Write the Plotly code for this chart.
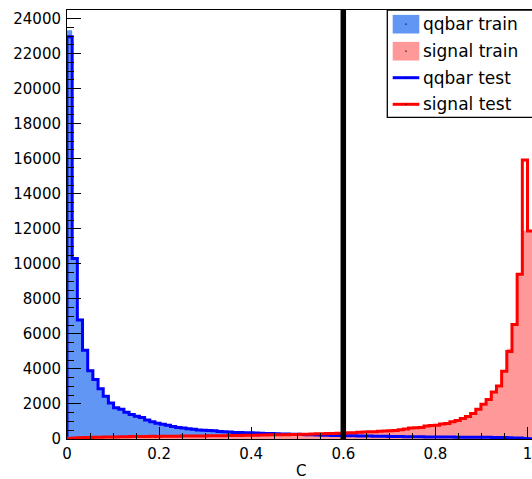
import numpy as np
import plotly.graph_objects as go

# ---- histogram contents (classifier output C) ----
BIN_WIDTH = 1.0 / 89.0

qqbar_train = [
    23330, 10380, 6860, 5020, 3950, 3430, 2900, 2480, 2040, 1800,
    1680, 1540, 1420, 1290, 1210, 1100, 1000, 910, 830, 790,
    720, 670, 620, 600, 555, 530, 505, 480, 465, 440,
    415, 395, 380, 365, 362, 345, 342, 330, 322, 305,
    302, 288, 283, 270, 262, 258, 244, 238, 228, 218,
    214, 203, 198, 194, 184, 182, 174, 171, 164, 162,
    154, 151, 145, 143, 135, 133, 127, 126, 121, 121,
    117, 116, 112, 111, 107, 107, 103, 103, 99, 97,
    96, 92, 89, 87, 79, 73, 61, 51, 34, 21,
]

signal_train = [
    32, 48, 72, 79, 92, 94, 104, 112, 114, 122,
    124, 133, 134, 141, 139, 147, 148, 153, 154, 161,
    159, 166, 164, 171, 172, 174, 181, 179, 187, 188,
    192, 194, 202, 204, 212, 214, 222, 224, 232, 234,
    242, 244, 252, 254, 263, 272, 274, 287, 289, 302,
    304, 317, 323, 338, 348, 362, 378, 402, 408, 422,
    438, 457, 468, 492, 528, 578, 618, 642, 648, 742,
    758, 794, 848, 893, 976, 1063, 1168, 1294, 1458, 1698,
    1984, 2258, 2694, 3016, 3880, 5150, 6580, 9380, 11900, 11870,
]

qqbar_test = [
    22960, 10300, 6800, 5060, 3890, 3400, 2870, 2445, 2060, 1780,
    1700, 1520, 1400, 1300, 1230, 1080, 990, 900, 840, 780,
    710, 660, 630, 590, 560, 520, 500, 485, 470, 430,
    410, 400, 375, 370, 360, 350, 340, 335, 320, 310,
    300, 290, 280, 272, 265, 255, 246, 236, 226, 220,
    212, 205, 200, 192, 186, 180, 176, 170, 166, 160,
    156, 150, 146, 141, 136, 131, 128, 125, 123, 120,
    118, 115, 113, 110, 108, 106, 104, 102, 100, 98,
    95, 93, 90, 86, 80, 72, 62, 50, 35, 20,
]

signal_test = [
    28, 52, 68, 83, 88, 97, 102, 108, 117, 119,
    127, 129, 137, 138, 143, 144, 151, 149, 157, 158,
    163, 162, 168, 167, 173, 176, 178, 183, 184, 191,
    189, 197, 199, 206, 209, 217, 219, 226, 229, 237,
    239, 247, 249, 258, 261, 268, 278, 283, 293, 298,
    308, 313, 327, 333, 352, 358, 382, 398, 413, 418,
    443, 452, 474, 488, 533, 572, 622, 638, 655, 738,
    764, 786, 853, 887, 984, 1057, 1172, 1288, 1462, 1702,
    1978, 2262, 2688, 3021, 3870, 5000, 6540, 9400, 15930, 11870,
]

cut_value = 0.6
x_title = "C"
legend_labels = ["qqbar train", "signal train", "qqbar test", "signal test"]

n_bins = len(qqbar_test)
edges = np.arange(n_bins + 1) * BIN_WIDTH

BLUE_FILL = "rgb(97,150,245)"
PINK_FILL = "rgb(255,153,153)"
BLUE_LINE = "rgb(0,0,255)"
RED_LINE = "rgb(255,0,0)"
FONT = "DejaVu Sans"


def step_outline(values):
    """Histogram outline as an hv step path starting from the baseline."""
    xs = np.concatenate([[edges[0]], edges[:-1], [edges[-1]], [edges[-1]]])
    ys = np.concatenate([[0], values, [values[-1]], [0]])
    return xs, ys


fig = go.Figure()

# training samples: filled histograms
for vals, color in ((qqbar_train, BLUE_FILL), (signal_train, PINK_FILL)):
    sx, sy = step_outline(vals)
    fig.add_trace(go.Scatter(
        x=sx, y=sy, mode="lines", line=dict(width=0, shape="hv", color=color),
        fill="tozeroy", fillcolor=color,
        showlegend=False, hoverinfo="skip",
    ))

# test samples: outlined histograms
for vals, color in ((qqbar_test, BLUE_LINE), (signal_test, RED_LINE)):
    sx, sy = step_outline(vals)
    fig.add_trace(go.Scatter(
        x=sx[:-1], y=sy[:-1], mode="lines", line=dict(color=color, width=3, shape="hv"),
        showlegend=False, hoverinfo="skip",
    ))

# ---- geometry of the plotting frame (pixels) ----
W, H = 532, 479
L, R, T, B = 67, 0, 10, 40
PW, PH = W - L - R, H - T - B
X_PER_UNIT = 460.5
x_max = PW / X_PER_UNIT
y_max = 24490


def px(xp):
    return (xp - L) / PW


def py(yp):
    return (H - B - yp) / PH


shapes = [
    # cut position
    dict(type="line", xref="x", yref="paper", x0=cut_value, x1=cut_value,
         y0=0, y1=1, line=dict(color="black", width=5.5), layer="above"),
    # legend frame
    dict(type="rect", xref="paper", yref="paper",
         x0=px(387.3), x1=px(545), y0=py(117.3), y1=1.0,
         line=dict(color="black", width=1.3), fillcolor="white", layer="above"),
]

row_y = [24.2, 51.2, 77.7, 104.3]
sym_x0, sym_x1 = 392.7, 419.3
sym_xc = (sym_x0 + sym_x1) / 2
for i, (ry, lab) in enumerate(zip(row_y, legend_labels)):
    if i < 2:
        shapes.append(dict(type="rect", xref="paper", yref="paper",
                           x0=px(sym_x0), x1=px(sym_x1), y0=py(ry + 9.3), y1=py(ry - 9.3),
                           line=dict(width=0), fillcolor=(BLUE_FILL if i == 0 else PINK_FILL),
                           layer="above"))
    else:
        shapes.append(dict(type="line", xref="paper", yref="paper",
                           x0=px(sym_x0), x1=px(sym_x1), y0=py(ry), y1=py(ry),
                           line=dict(color=(BLUE_LINE if i == 2 else RED_LINE), width=3),
                           layer="above"))
    shapes.append(dict(type="rect", xref="paper", yref="paper",
                       x0=px(sym_xc - 0.6), x1=px(sym_xc + 0.6),
                       y0=py(ry + 0.6), y1=py(ry - 0.6),
                       line=dict(width=0), fillcolor="black", layer="above"))

annotations = [
    dict(xref="paper", yref="paper", x=px(422.3), y=py(ry), text=lab,
         xanchor="left", yanchor="middle", showarrow=False, borderpad=0,
         font=dict(family=FONT, size=17, color="black"))
    for ry, lab in zip(row_y, legend_labels)
]
# x-axis title, placed at the bottom edge of the canvas
annotations.append(dict(
    xref="paper", yref="paper", x=px(300.8), y=py(471.5), text=x_title,
    xanchor="center", yanchor="middle", showarrow=False, borderpad=0,
    font=dict(family=FONT, size=15, color="black"),
))

fig.update_layout(
    width=W, height=H,
    margin=dict(l=L, r=R, t=T, b=B, pad=0),
    paper_bgcolor="white", plot_bgcolor="white",
    showlegend=False,
    font=dict(family=FONT, size=15, color="black"),
    shapes=shapes, annotations=annotations,
    xaxis=dict(
        range=[0, x_max], showgrid=False, zeroline=False,
        showline=True, linecolor="black", linewidth=1, mirror=True,
        ticks="inside", ticklen=12, tickwidth=1, tickcolor="black",
        tick0=0, dtick=0.2, ticklabelstandoff=1, ticklabeloverflow="allow",
        minor=dict(ticks="inside", ticklen=6, dtick=0.05, tickcolor="black", showgrid=False),
        automargin=False,
    ),
    yaxis=dict(
        range=[0, y_max], showgrid=False, zeroline=False,
        showline=True, linecolor="black", linewidth=1,
        ticks="inside", ticklen=14, tickwidth=1, tickcolor="black",
        tick0=0, dtick=2000, tickformat="d", ticklabelstandoff=2,
        minor=dict(ticks="inside", ticklen=7, dtick=500, tickcolor="black", showgrid=False),
        automargin=False,
    ),
)

fig.write_html("out.html")
